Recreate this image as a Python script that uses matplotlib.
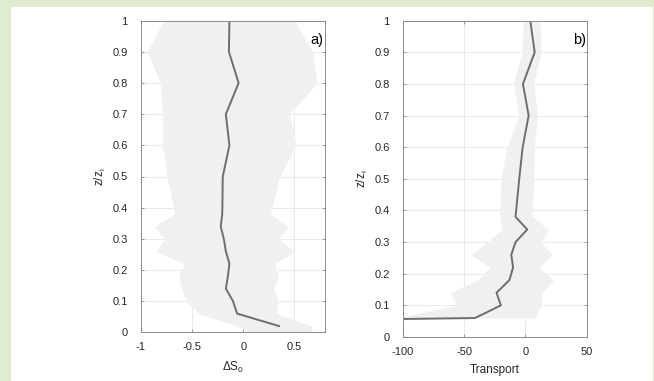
import matplotlib.pyplot as plt
from matplotlib.patches import Rectangle

plt.rcParams['font.family'] = ['Liberation Sans', 'DejaVu Sans']
plt.rcParams['axes.unicode_minus'] = False

# heights of the profiles (z/zi)
z_line = [0.02, 0.06, 0.10, 0.14, 0.18, 0.22, 0.26, 0.30, 0.34, 0.38,
          0.5, 0.6, 0.7, 0.8, 0.9, 1.0]

# panel a) delta S0
ds0_mean = [0.35, -0.06, -0.10, -0.17, -0.15, -0.135, -0.17, -0.19, -0.22, -0.205,
            -0.20, -0.135, -0.17, -0.045, -0.14, -0.135]
z_band_a = [0.0, 0.02, 0.06, 0.10, 0.14, 0.18, 0.22, 0.26, 0.30, 0.34, 0.38,
            0.5, 0.6, 0.7, 0.8, 0.9, 1.0]
ds0_low = [0.06, -0.06, -0.43, -0.56, -0.60, -0.63, -0.58, -0.85, -0.77, -0.87, -0.67,
           -0.745, -0.79, -0.79, -0.81, -0.94, -0.78]
ds0_high = [0.67, 0.67, 0.32, 0.345, 0.30, 0.345, 0.31, 0.50, 0.35, 0.44, 0.265,
            0.355, 0.52, 0.45, 0.725, 0.68, 0.50]

# panel b) transport
tr_mean = [-800, -41, -20, -23.5, -13, -10, -11.5, -8, 1.5, -8,
           -5, -2.2, 2.7, -2, 7.6, 4]
z_band_b = [0.06, 0.10, 0.14, 0.18, 0.22, 0.26, 0.30, 0.34, 0.38,
            0.5, 0.6, 0.7, 0.8, 0.9, 1.0]
tr_low = [-105, -56, -61, -39, -28.5, -44.6, -31, -19, -21,
          -20, -15, -5.4, -10, -2.7, -2]
tr_high = [8, 13, 13.6, 23, 11, 21.7, 12.8, 19, 5.4,
           6.8, 7.3, 10, 6.8, 12.8, 12.2]

yticks = [0, 0.1, 0.2, 0.3, 0.4, 0.5, 0.6, 0.7, 0.8, 0.9, 1]
ytick_labels = ['0', '0.1', '0.2', '0.3', '0.4', '0.5', '0.6', '0.7', '0.8', '0.9', '1']

W, H = 654, 381
fig = plt.figure(figsize=(W / 100, H / 100), dpi=100)
fig.patch.set_facecolor('#dfeccf')
fig.patches.append(Rectangle((11 / W, 0), (653 - 11) / W, (H - 7) / H,
                             transform=fig.transFigure, facecolor='white',
                             edgecolor='none', zorder=-5))

band_col = '#f0f0f0'
line_col = '#6e6e6e'
spine_col = '#8a8a8a'
text_col = '#262626'


def style(ax):
    ax.set_ylim(0, 1)
    ax.set_yticks(yticks)
    ax.set_yticklabels(ytick_labels)
    ax.grid(True, color='#e6e6e6', linewidth=0.6)
    ax.set_axisbelow(True)
    ax.tick_params(direction='in', length=2.5, width=0.6, top=True, right=True,
                   labelsize=8, colors=spine_col, labelcolor=text_col)
    ax.tick_params(axis='x', pad=7)
    ax.tick_params(axis='y', pad=9.5)
    for s in ax.spines.values():
        s.set_color(spine_col)
        s.set_linewidth(0.7)


# panel a
ax1 = fig.add_axes([141 / W, (H - 332.3) / H, 184 / W, 311.6 / H])
ax1.fill_betweenx(z_band_a, ds0_low, ds0_high, color=band_col, linewidth=0)
ax1.plot(ds0_mean, z_line, color=line_col, linewidth=1.4)
ax1.set_xlim(-1, 0.8)
ax1.set_xticks([-1, -0.5, 0, 0.5])
ax1.set_xticklabels(['-1', '-0.5', '0', '0.5'])
style(ax1)
ax1.set_xlabel('ΔS$_\\mathregular{0}$', fontsize=8.5, color=text_col)
ax1.set_ylabel('z/z$_\\mathregular{i}$', fontsize=8.5, color=text_col)
ax1.xaxis.set_label_coords(0.5, -0.087)
ax1.yaxis.set_label_coords(-0.18, 0.5)
ax1.text(0.99, 0.938, 'a)', transform=ax1.transAxes, ha='right', va='center',
         fontsize=10.5, color='black')

# panel b
ax2 = fig.add_axes([402.7 / W, (H - 337) / H, 184 / W, 316.3 / H])
ax2.fill_betweenx(z_band_b, tr_low, tr_high, color=band_col, linewidth=0)
ax2.plot(tr_mean, z_line, color=line_col, linewidth=1.4)
ax2.set_xlim(-100, 50)
ax2.set_xticks([-100, -50, 0, 50])
style(ax2)
ax2.set_xlabel('Transport', fontsize=8.5, color=text_col)
ax2.set_ylabel('z/z$_\\mathregular{i}$', fontsize=8.5, color=text_col)
ax2.xaxis.set_label_coords(0.5, -0.086)
ax2.yaxis.set_label_coords(-0.18, 0.5)
ax2.text(0.995, 0.939, 'b)', transform=ax2.transAxes, ha='right', va='center',
         fontsize=10.5, color='black')

fig.savefig('out.png', dpi=100, facecolor=fig.get_facecolor())
